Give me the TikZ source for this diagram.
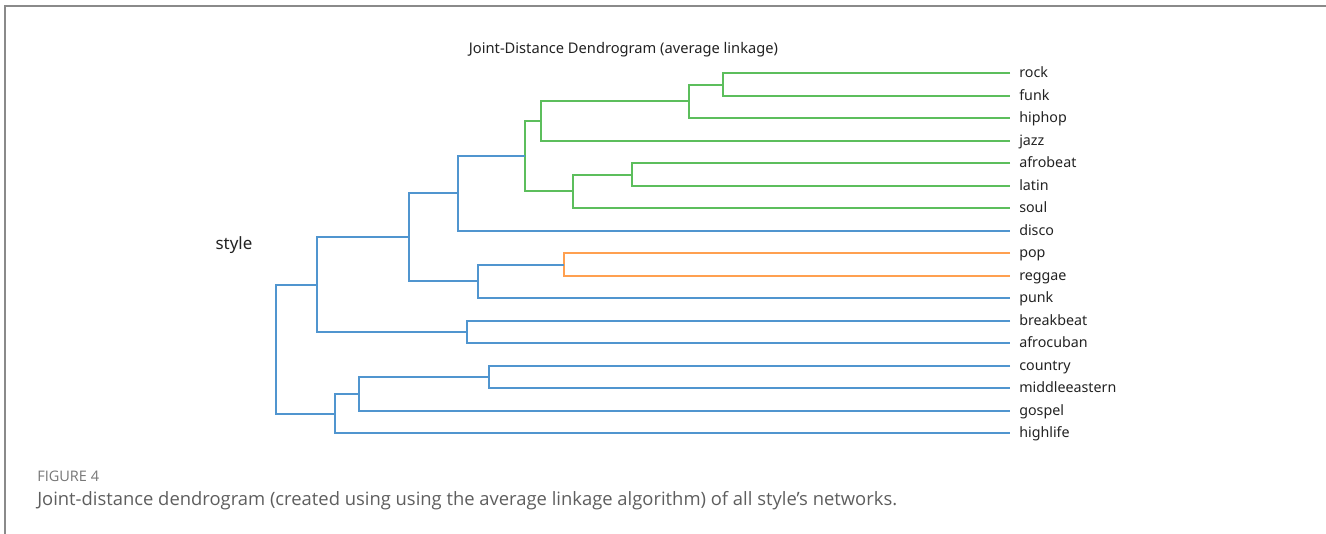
\documentclass[tikz,border=0pt]{standalone}
\usepackage{fontspec}
\setmainfont{Noto Sans}
\newfontfamily\capfont{Open Sans}
\definecolor{linkblue}{HTML}{5095CF}
\definecolor{linkgreen}{HTML}{5CBE5C}
\definecolor{linkorange}{HTML}{FFA050}
\definecolor{framegray}{HTML}{8A8A8A}
\definecolor{figgray}{HTML}{777777}
\definecolor{capgray}{HTML}{5E5E5E}
\definecolor{inkgray}{HTML}{222222}
\tikzset{
  leaf/.style={anchor=west, inner xsep=6.75pt, inner ysep=0pt,
    text height=0.72em, text depth=0.02em, text=inkgray,
    font=\fontsize{10.7}{12}\selectfont},
  link/.style={line width=1.5pt, line join=miter},
  bl/.style={link, draw=linkblue},
  gr/.style={link, draw=linkgreen},
  og/.style={link, draw=linkorange}
}
\begin{document}
\begin{tikzpicture}[x=0.75pt, y=-0.75pt]
\useasboundingbox (0,0) rectangle (1326,534);

% page frame
\draw[framegray, line width=1.1pt] (5,534) -- (5,6) -- (1326,6);

% title and axis label
\node[text=inkgray, font=\fontsize{11}{13}\selectfont] (title) at (623.5,50)
  {Joint-Distance Dendrogram (average linkage)};
\node[text=inkgray, font=\fontsize{12.7}{14}\selectfont] (axislabel) at (234,245) {style};

% leaves
\node[leaf] (rock)          at (1010,73)  {rock};
\node[leaf] (funk)          at (1010,96)  {funk};
\node[leaf] (hiphop)        at (1010,118) {hiphop};
\node[leaf] (jazz)          at (1010,141) {jazz};
\node[leaf] (afrobeat)      at (1010,163) {afrobeat};
\node[leaf] (latin)         at (1010,186) {latin};
\node[leaf] (soul)          at (1010,208) {soul};
\node[leaf] (disco)         at (1010,231) {disco};
\node[leaf] (pop)           at (1010,253) {pop};
\node[leaf] (reggae)        at (1010,276) {reggae};
\node[leaf] (punk)          at (1010,298) {punk};
\node[leaf] (breakbeat)     at (1010,321) {breakbeat};
\node[leaf] (afrocuban)     at (1010,343) {afrocuban};
\node[leaf] (country)       at (1010,366) {country};
\node[leaf] (middleeastern) at (1010,388) {middleeastern};
\node[leaf] (gospel)        at (1010,411) {gospel};
\node[leaf] (highlife)      at (1010,433) {highlife};

% merge points
\coordinate (m1)  at (723,85);
\coordinate (m2)  at (689,101);
\coordinate (m3)  at (541,121);
\coordinate (m4)  at (632,175);
\coordinate (m5)  at (573,191);
\coordinate (m6)  at (525,156);
\coordinate (m7)  at (458,193);
\coordinate (m8)  at (564,265);
\coordinate (m9)  at (478,281);
\coordinate (m10) at (409,237);
\coordinate (m11) at (467,332);
\coordinate (m12) at (317,285);
\coordinate (m13) at (489,377);
\coordinate (m14) at (359,394);
\coordinate (m15) at (335,414);
\coordinate (m16) at (276,349);

% links
\draw[gr] (rock.west) -| (m1) |- (funk.west);
\draw[gr] (m1) -| (m2) |- (hiphop.west);
\draw[gr] (m2) -| (m3) |- (jazz.west);
\draw[gr] (afrobeat.west) -| (m4) |- (latin.west);
\draw[gr] (m4) -| (m5) |- (soul.west);
\draw[gr] (m3) -| (m6) |- (m5);
\draw[bl] (m6) -| (m7) |- (disco.west);
\draw[og] (pop.west) -| (m8) |- (reggae.west);
\draw[bl] (m8) -| (m9) |- (punk.west);
\draw[bl] (m7) -| (m10) |- (m9);
\draw[bl] (breakbeat.west) -| (m11) |- (afrocuban.west);
\draw[bl] (m10) -| (m12) |- (m11);
\draw[bl] (country.west) -| (m13) |- (middleeastern.west);
\draw[bl] (m13) -| (m14) |- (gospel.west);
\draw[bl] (m14) -| (m15) |- (highlife.west);
\draw[bl] (m12) -| (m16) |- (m15);

% caption
\node[anchor=base west, inner sep=0pt, text=figgray, font=\capfont\fontsize{10.9}{12}\selectfont]
  (figtag) at (37,481) {FIGURE 4};
\node[anchor=base west, inner sep=0pt, text=capgray, font=\capfont\fontsize{13.8}{16}\selectfont]
  (caption) at (37,505)
  {Joint-distance dendrogram (created using using the average linkage algorithm) of all style’s networks.};
\end{tikzpicture}
\end{document}
